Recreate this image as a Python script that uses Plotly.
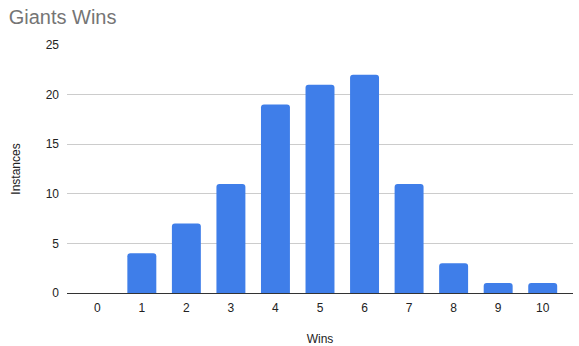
import plotly.graph_objects as go

wins = ["0", "1", "2", "3", "4", "5", "6", "7", "8", "9", "10"]
instances = [0, 4, 7, 11, 19, 21, 22, 11, 3, 1, 1]

fig = go.Figure(go.Bar(
    x=wins, y=instances,
    marker=dict(color="#3f7ee9", cornerradius=3, line=dict(width=0)),
))
fig.update_layout(
    width=579, height=346,
    margin=dict(l=67, r=6, t=45, b=53),
    paper_bgcolor="white", plot_bgcolor="white",
    font=dict(family="Liberation Sans, Arial, sans-serif", size=12, color="#222222"),
    title=dict(text="Giants Wins", x=0.015, xanchor="left", y=0.95, yanchor="middle",
               font=dict(size=20, color="#757575")),
    bargap=0.35,
    showlegend=False,
)
fig.update_xaxes(
    title=dict(text="Wins", font=dict(size=12, color="#222222"), standoff=20),
    automargin=False,
    range=[-0.68, 10.68],
    showline=True, linecolor="#333333", linewidth=1,
    showgrid=False, ticks="", ticklabelstandoff=4,
    tickfont=dict(size=12, color="#222222"),
)
fig.update_yaxes(
    title=dict(text="Instances", font=dict(size=12, color="#222222"), standoff=22),
    automargin=False,
    range=[0, 25], dtick=5, showgrid=True, gridcolor="#cccccc", gridwidth=1,
    zeroline=False, ticks="", ticklabelstandoff=7,
    tickfont=dict(size=12, color="#222222"),
)
fig.write_html("out.html")
